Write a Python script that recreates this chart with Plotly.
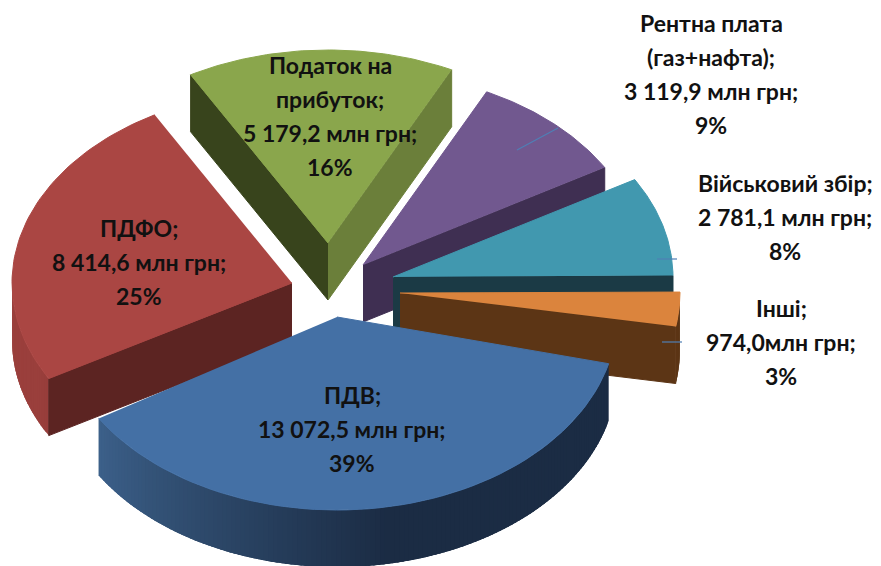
import math
import plotly.graph_objects as go

categories = [["ПДВ"], ["ПДФО"], ["Податок на", "прибуток"], ["Рентна плата", "(газ+нафта)"], ["Військовий збір"], ["Інші"]]
values = [13072.5, 8414.6, 5179.2, 3119.9, 2781.1, 974.0]
value_labels = ["13 072,5 млн грн", "8 414,6 млн грн", "5 179,2 млн грн", "3 119,9 млн грн", "2 781,1 млн грн", "974,0млн грн"]
percents = ["39%", "25%", "16%", "9%", "8%", "3%"]
top_colors = ["#4470a5", "#aa4643", "#8aa64c", "#71588f", "#4198af", "#db843d"]
wall_light = ["#3f6590", "#9a3f3c", "#76903f", "#5f4a79", "#2f7386", "#5c3515"]
wall_dark = ["#1b2c44", "#5c2422", "#38441c", "#3f2f52", "#1b3a45", "#5c3515"]
right_face = ["#1b2c44", "#5c2422", "#6b7f3a", "#3f2f52", "#1b3a45", "#5c3515"]
apexes = [(337, 317), (292, 283), (328, 243), (363, 265), (393, 277), (400, 293)]
perspective_shift = [(4, -2), (0, 0), (0, 0), (0, 0), (0, 0), (0, 0)]
label_xy = [(352, 395), (139, 228), (330, 65), (711, 23), (785, 183), (781, 308)]
leaders = [None, None, None, ((517, 150), (558, 128)), ((657, 259), (677, 259)), ((662, 342), (682, 342))]

RX, RY, DEPTH, START, LINE_H = 280, 193, 57, 10, 34
draw_order = [2, 3, 1, 4, 5, 0]

def lerp(a, b, t):
    pa = [int(a[i:i + 2], 16) for i in (1, 3, 5)]
    pb = [int(b[i:i + 2], 16) for i in (1, 3, 5)]
    return "rgb(%d,%d,%d)" % tuple(round(x + (y - x) * t) for x, y in zip(pa, pb))

def poly(fig, pts, color, edge=1):
    fig.add_trace(go.Scatter(x=[p[0] for p in pts], y=[p[1] for p in pts], mode="lines", fill="toself",
                             fillcolor=color, line=dict(color=color, width=edge), hoverinfo="skip", showlegend=False))

fig = go.Figure()
total = sum(values)
spans, a = [], START
for v, (s0, s1) in zip(values, perspective_shift):
    spans.append((a + s0, a + 360 * v / total + s1))
    a += 360 * v / total

for i in draw_order:
    a0, a1 = spans[i]
    ox, oy = apexes[i]
    def pt(deg, drop=0):
        r = math.radians(deg)
        return (ox + RX * math.cos(r), oy + RY * math.sin(r) + drop)
    apex, apex_low = (ox, oy), (ox, oy + DEPTH)
    n = max(2, int(a1 - a0))
    for k in range(n):
        d0 = a0 + (a1 - a0) * k / n
        d1 = a0 + (a1 - a0) * (k + 1) / n
        dm = (d0 + d1) / 2
        if math.sin(math.radians(dm)) > -0.05:
            shade = min(1.0, max(0.0, (dm - 80) / 75))
            arc_w = [d0 + (min(a1, d1 + 1.5) - d0) * t / 4 for t in range(5)]
            poly(fig, [pt(d) for d in arc_w] + [pt(d, DEPTH) for d in reversed(arc_w)],
                 lerp(wall_dark[i], wall_light[i], shade), edge=0)
    if math.cos(math.radians(a0)) < 0:
        poly(fig, [apex, pt(a0), pt(a0, DEPTH), apex_low], wall_dark[i])
    if math.cos(math.radians(a1)) > 0:
        poly(fig, [apex, pt(a1), pt(a1, DEPTH), apex_low], right_face[i])
    arc = [pt(a0 + (a1 - a0) * k / 60) for k in range(61)]
    poly(fig, [apex] + arc, top_colors[i])

for seg in leaders:
    if seg:
        fig.add_trace(go.Scatter(x=[seg[0][0], seg[1][0]], y=[seg[0][1], seg[1][1]], mode="lines",
                                 line=dict(color="#4f7fb5", width=1.2), hoverinfo="skip", showlegend=False))

for c, val, p, (x, y) in zip(categories, value_labels, percents, label_xy):
    lines = list(c)
    lines[-1] += ";"
    lines += [val + ";", p]
    for j, line in enumerate(lines):
        fig.add_annotation(x=x, y=y + j * LINE_H, text=line, showarrow=False,
                           font=dict(family="Lato", size=23, color="#111111", weight="bold"))

fig.update_xaxes(range=[0, 881], visible=False)
fig.update_yaxes(range=[566, 0], visible=False)
fig.update_layout(width=881, height=566, margin=dict(l=0, r=0, t=0, b=0), paper_bgcolor="white", plot_bgcolor="white")
fig.write_html("out.html", config={"displayModeBar": False},
               post_script="document.body.style.margin='0';document.documentElement.style.overflow='hidden';")
